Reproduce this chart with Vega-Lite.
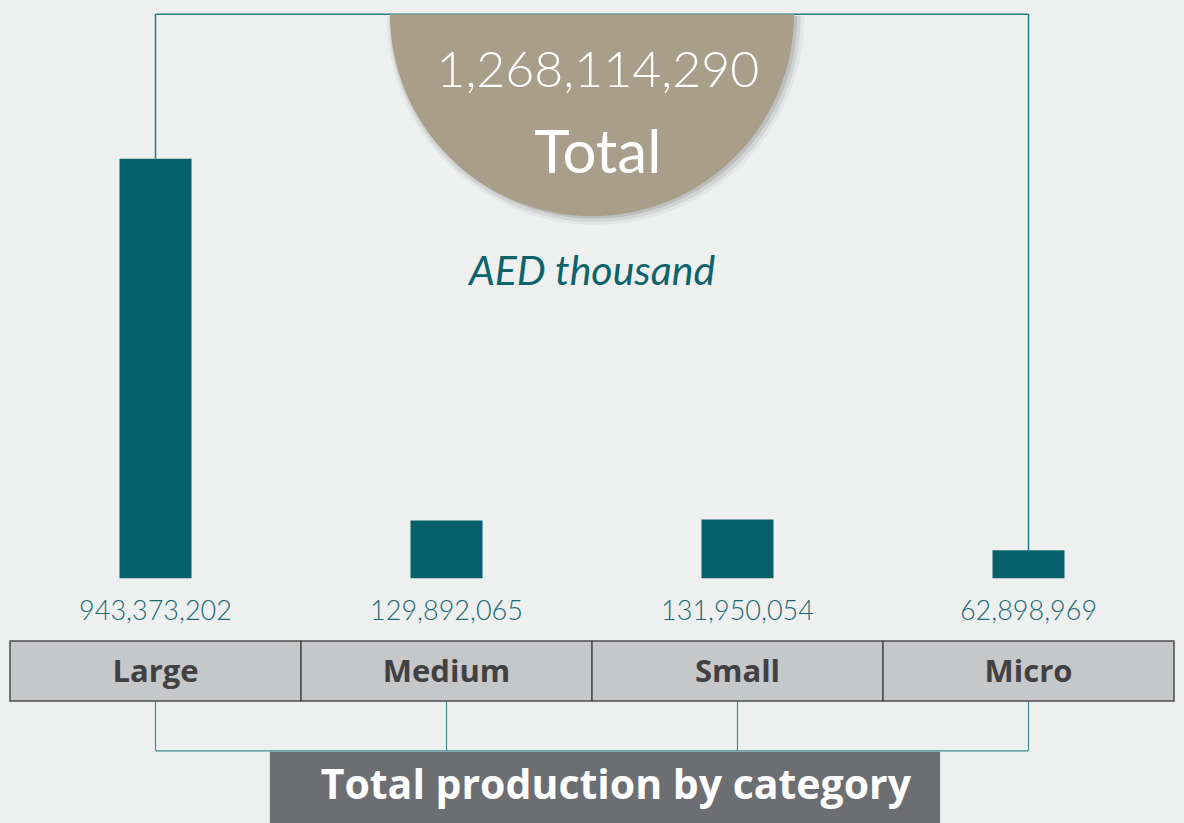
{
  "$schema": "https://vega.github.io/schema/vega-lite/v6.json",
  "width": 1184,
  "height": 823,
  "autosize": {"type": "fit", "contains": "padding"},
  "padding": 0,
  "background": "#eeefef",
  "config": {"view": {"stroke": null}, "axis": {"disable": true}},
  "data": {"values": [
    {"category": "Large", "value": 943373202},
    {"category": "Medium", "value": 129892065},
    {"category": "Small", "value": 131950054},
    {"category": "Micro", "value": 62898969}
  ]},
  "layer": [
    {
      "data": {"values": [{}]},
      "mark": {"type": "rule", "color": "#1f7a82", "strokeWidth": 1.5},
      "encoding": {
        "x": {"datum": "Large", "type": "nominal", "bandPosition": 0.5,
              "scale": {"type": "band", "domain": ["Large", "Medium", "Small", "Micro"], "paddingInner": 0, "paddingOuter": 0.0344}},
        "x2": {"datum": "Micro", "bandPosition": 0.5},
        "y": {"datum": 1268000000, "type": "quantitative",
              "scale": {"domain": [-550000000, 1300000000], "nice": false, "zero": false}}
      }
    },
    {
      "transform": [{"filter": {"field": "category", "oneOf": ["Large", "Micro"]}}],
      "mark": {"type": "rule", "color": "#1f7a82", "strokeWidth": 1.5},
      "encoding": {
        "x": {"field": "category", "type": "nominal", "bandPosition": 0.5},
        "y": {"field": "value", "type": "quantitative"},
        "y2": {"datum": 1268000000}
      }
    },
    {
      "data": {"values": [{}]},
      "mark": {"type": "arc", "theta": 1.5708, "theta2": 4.7124, "radius": 209, "fill": "#000000", "opacity": 0.04},
      "encoding": {
        "x": {"datum": "Medium", "type": "nominal", "bandPosition": 1.012},
        "y": {"datum": 1264000000, "type": "quantitative"}
      }
    },
    {
      "data": {"values": [{}]},
      "mark": {"type": "arc", "theta": 1.5708, "theta2": 4.7124, "radius": 206, "fill": "#000000", "opacity": 0.07},
      "encoding": {
        "x": {"datum": "Medium", "type": "nominal", "bandPosition": 1.01},
        "y": {"datum": 1264000000, "type": "quantitative"}
      }
    },
    {
      "data": {"values": [{}]},
      "mark": {"type": "arc", "theta": 1.5708, "theta2": 4.7124, "radius": 203, "fill": "#000000", "opacity": 0.1},
      "encoding": {
        "x": {"datum": "Medium", "type": "nominal", "bandPosition": 1.008},
        "y": {"datum": 1265000000, "type": "quantitative"}
      }
    },
    {
      "data": {"values": [{}]},
      "mark": {"type": "arc", "theta": 1.5708, "theta2": 4.7124, "radius": 202, "fill": "#a89e89"},
      "encoding": {
        "x": {"datum": "Medium", "type": "nominal", "bandPosition": 1},
        "y": {"datum": 1268000000, "type": "quantitative"}
      }
    },
    {
      "mark": {"type": "text", "font": "Lato", "fontWeight": 300, "fontSize": 50, "color": "#ffffff", "baseline": "middle", "align": "center"},
      "encoding": {
        "x": {"datum": "Medium", "type": "nominal", "bandPosition": 1.02},
        "y": {"datum": 1138000000, "type": "quantitative"},
        "text": {"aggregate": "sum", "field": "value", "type": "quantitative", "format": ","}
      }
    },
    {
      "data": {"values": [{"label": "Total"}]},
      "mark": {"type": "text", "font": "Lato", "fontWeight": 400, "fontSize": 60, "color": "#ffffff", "baseline": "middle", "align": "center"},
      "encoding": {
        "x": {"datum": "Medium", "type": "nominal", "bandPosition": 1.02},
        "y": {"datum": 952000000, "type": "quantitative"},
        "text": {"field": "label"}
      }
    },
    {
      "data": {"values": [{"label": "AED thousand"}]},
      "mark": {"type": "text", "font": "Lato", "fontStyle": "italic", "fontSize": 41, "color": "#0d636b", "baseline": "middle", "align": "center"},
      "encoding": {
        "x": {"datum": "Medium", "type": "nominal", "bandPosition": 1},
        "y": {"datum": 686000000, "type": "quantitative"},
        "text": {"field": "label"}
      }
    },
    {
      "mark": {"type": "bar", "width": 72, "color": "#04606a"},
      "encoding": {
        "x": {"field": "category", "type": "nominal"},
        "y": {"field": "value", "type": "quantitative"},
        "y2": {"datum": 0}
      }
    },
    {
      "mark": {"type": "text", "font": "Lato", "fontWeight": 300, "fontSize": 27, "color": "#1a6a72", "baseline": "middle", "align": "center"},
      "encoding": {
        "x": {"field": "category", "type": "nominal"},
        "y": {"datum": -76000000, "type": "quantitative"},
        "text": {"field": "value", "type": "quantitative", "format": ","}
      }
    },
    {
      "mark": {"type": "rule", "color": "#3d8c92", "strokeWidth": 1.2},
      "encoding": {
        "x": {"field": "category", "type": "nominal", "bandPosition": 0.5},
        "y": {"datum": -276000000, "type": "quantitative"},
        "y2": {"datum": -388000000}
      }
    },
    {
      "data": {"values": [{}]},
      "mark": {"type": "rule", "color": "#3d8c92", "strokeWidth": 1.2},
      "encoding": {
        "x": {"datum": "Large", "type": "nominal", "bandPosition": 0.5},
        "x2": {"datum": "Micro", "bandPosition": 0.5},
        "y": {"datum": -388000000, "type": "quantitative"}
      }
    },
    {
      "mark": {"type": "rect", "fill": "#c6c7c9", "stroke": "#4d4d4f", "strokeWidth": 1.5},
      "encoding": {
        "x": {"field": "category", "type": "nominal"},
        "y": {"datum": -141000000, "type": "quantitative"},
        "y2": {"datum": -276000000}
      }
    },
    {
      "mark": {"type": "text", "font": "Open Sans", "fontWeight": "bold", "fontSize": 31, "color": "#414042", "baseline": "middle", "align": "center"},
      "encoding": {
        "x": {"field": "category", "type": "nominal"},
        "y": {"datum": -213000000, "type": "quantitative"},
        "text": {"field": "category"}
      }
    },
    {
      "data": {"values": [{}]},
      "mark": {"type": "rect", "fill": "#6d6e72"},
      "encoding": {
        "x": {"datum": "Large", "type": "nominal", "bandPosition": 0.893},
        "x2": {"datum": "Micro", "bandPosition": 0.196},
        "y": {"datum": -390000000, "type": "quantitative"},
        "y2": {"datum": -550000000}
      }
    },
    {
      "data": {"values": [{"label": "Total production by category"}]},
      "mark": {"type": "text", "font": "Open Sans", "fontWeight": "bold", "fontSize": 41, "color": "#ffffff", "baseline": "middle", "align": "center"},
      "encoding": {
        "x": {"datum": "Small", "type": "nominal", "bandPosition": 0.082},
        "y": {"datum": -469000000, "type": "quantitative"},
        "text": {"field": "label"}
      }
    }
  ]
}
